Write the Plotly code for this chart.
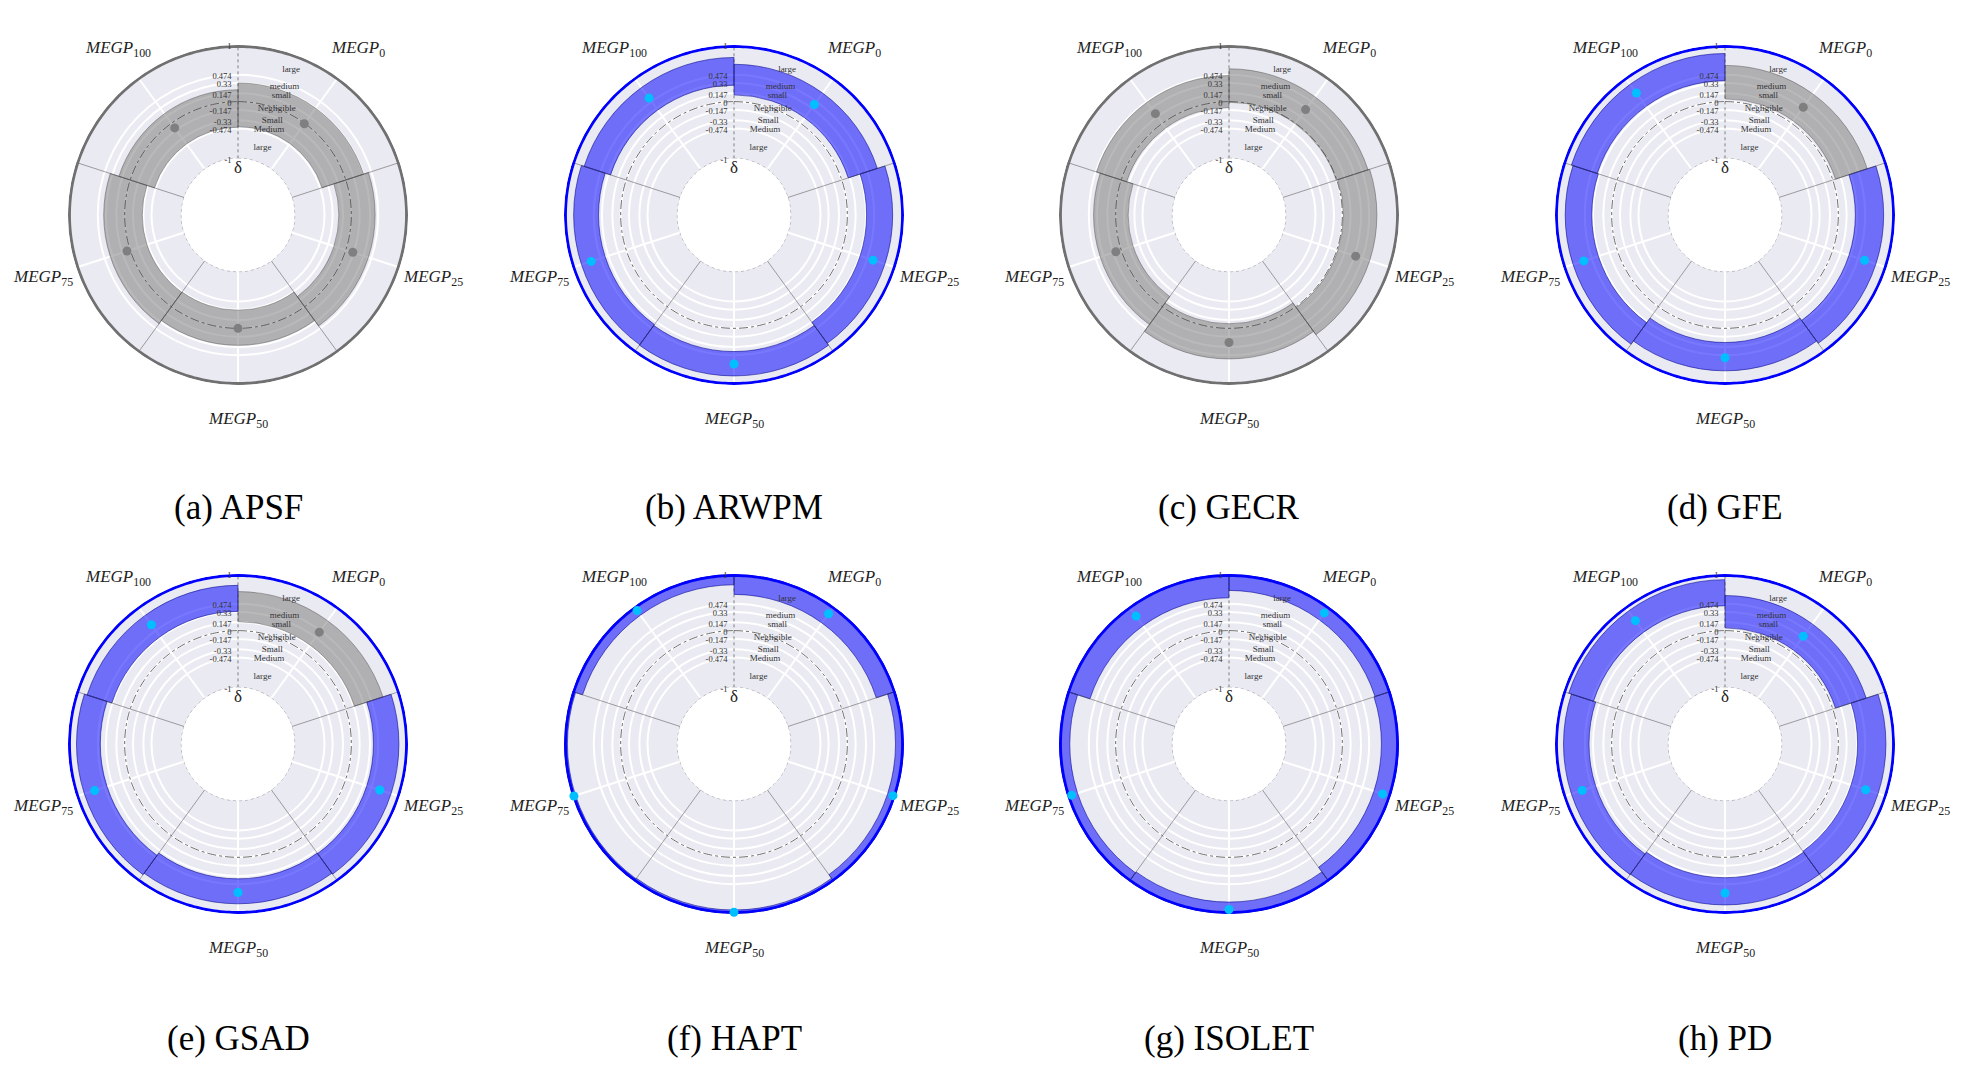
import numpy as np
import plotly.graph_objects as go

# effect size (Cliff's delta) per dataset, one value per MEGP level
datasets = ["APSF", "ARWPM", "GECR", "GFE", "GSAD", "HAPT", "ISOLET", "PD"]
letters = ["a", "b", "c", "d", "e", "f", "g", "h"]
levels = ["0", "25", "50", "75", "100"]

ci_low = {
    "APSF":   [-0.44, -0.22, -0.32, -0.31, -0.45],
    "ARWPM":  [0.12, 0.34, 0.41, 0.39, 0.29],
    "GECR":   [-0.01, 0.02, -0.08, -0.22, -0.10],
    "GFE":    [0.05, 0.30, 0.25, 0.35, 0.37],
    "GSAD":   [0.16, 0.39, 0.38, 0.43, 0.34],
    "HAPT":   [0.64, 0.85, 0.93, 0.94, 0.81],
    "ISOLET": [0.71, 0.69, 0.79, 0.81, 0.58],
    "PD":     [0.05, 0.34, 0.36, 0.40, 0.44],
}
ci_high = {
    "APSF":   [0.33, 0.42, 0.30, 0.37, 0.21],
    "ARWPM":  [0.66, 0.80, 0.84, 0.83, 0.78],
    "GECR":   [0.58, 0.61, 0.54, 0.39, 0.46],
    "GFE":    [0.64, 0.80, 0.75, 0.82, 0.85],
    "GSAD":   [0.69, 0.84, 0.82, 0.85, 0.80],
    "HAPT":   [1.0, 1.0, 1.0, 1.0, 1.0],
    "ISOLET": [1.0, 1.0, 1.0, 1.0, 1.0],
    "PD":     [0.62, 0.84, 0.84, 0.85, 0.90],
}
delta = {
    "APSF":   [-0.01, 0.13, 0.0, 0.06, -0.10],
    "ARWPM":  [0.41, 0.58, 0.63, 0.65, 0.55],
    "GECR":   [0.30, 0.35, 0.25, 0.10, 0.21],
    "GFE":    [0.35, 0.59, 0.52, 0.62, 0.66],
    "GSAD":   [0.44, 0.63, 0.62, 0.66, 0.60],
    "HAPT":   [0.84, 0.95, 0.97, 0.97, 0.91],
    "ISOLET": [0.86, 0.85, 0.92, 0.92, 0.79],
    "PD":     [0.35, 0.61, 0.63, 0.65, 0.69],
}
signif = {
    "APSF":   [0, 0, 0, 0, 0],
    "ARWPM":  [1, 1, 1, 1, 1],
    "GECR":   [0, 0, 0, 0, 0],
    "GFE":    [0, 1, 1, 1, 1],
    "GSAD":   [0, 1, 1, 1, 1],
    "HAPT":   [1, 1, 1, 1, 1],
    "ISOLET": [1, 1, 1, 1, 1],
    "PD":     [1, 1, 1, 1, 1],
}

thresholds = [-1, -0.474, -0.33, -0.147, 0, 0.147, 0.33, 0.474, 1]
threshold_text = ["-1", "-0.474", "-0.33", "-0.147", "0", "0.147", "0.33", "0.474", "1"]
zone_names = ["large", "medium", "small", "Negligible", "Small", "Medium", "large"]
zone_edges = [1, 0.474, 0.33, 0.147, -0.147, -0.33, -0.474, -1]

# page is 1977x1068, browser body keeps an 8px margin
PAD = 8
W, H = 1977 - 2 * PAD, 1068 - 2 * PAD
R = 170
col_cx = [238 - PAD, 734 - PAD, 1229 - PAD, 1725 - PAD]
row_cy = [215 - PAD, 744 - PAD]
caption_y = [507 - PAD, 1038 - PAD]

theta_c = [36, 108, 180, 252, 324]
bounds = [0, 72, 144, 216, 288]
level_text = ["<i>MEGP</i><sub>%s</sub>" % l for l in levels]
LABEL_DIST = 205  # px from centre to the MEGP labels

BG = "#eaeaf2"
serif = "Liberation Serif"

fig = go.Figure()
annotations = []
layout_polars = {}

circle = np.linspace(0, 360, 361)
zone_r = [(zone_edges[i] + zone_edges[i + 1]) / 2 for i in range(len(zone_names))]

for k, ds in enumerate(datasets):
    row, col = k // 4, k % 4
    cx, cy = col_cx[col], row_cy[row]
    pname = "polar" if k == 0 else "polar%d" % (k + 1)
    sub = pname

    sig = signif[ds]
    fills = ["rgba(0,0,255,0.53)" if s else "rgba(128,128,128,0.55)" for s in sig]
    edges = ["rgba(0,0,140,0.7)" if s else "rgba(80,80,80,0.6)" for s in sig]
    dots = ["#00bfff" if s else "#7f7f7f" for s in sig]
    border = "#0000ff" if any(sig) else "#707070"

    lo = np.array(ci_low[ds])
    hi = np.array(ci_high[ds])

    fig.add_trace(go.Barpolar(
        theta=theta_c, r=hi - lo, base=lo, width=[72] * 5,
        marker=dict(color=fills, line=dict(color=edges, width=0.8)),
        subplot=sub, showlegend=False, hoverinfo="skip"))

    # hole edge and zero line
    fig.add_trace(go.Scatterpolar(
        theta=circle, r=[-1] * len(circle), mode="lines",
        line=dict(color="#999", width=0.9, dash="dot"), cliponaxis=False,
        subplot=sub, showlegend=False, hoverinfo="skip"))
    fig.add_trace(go.Scatterpolar(
        theta=circle, r=[0] * len(circle), mode="lines",
        line=dict(color="#444", width=0.8, dash="dashdot"),
        subplot=sub, showlegend=False, hoverinfo="skip"))

    for b in bounds:
        fig.add_trace(go.Scatterpolar(
            theta=[b, b], r=[-1, 1], mode="lines",
            line=dict(color="#444", width=0.8, dash="dot" if b == 0 else "solid"),
            opacity=0.8 if b == 0 else 0.6,
            subplot=sub, showlegend=False, hoverinfo="skip"))

    # outer frame, pulled slightly in so the stroke is not clipped
    fig.add_trace(go.Scatterpolar(
        theta=circle, r=[0.975] * len(circle), mode="lines",
        line=dict(color=border, width=3), cliponaxis=False,
        subplot=sub, showlegend=False, hoverinfo="skip"))

    fig.add_trace(go.Scatterpolar(
        theta=[20] * len(zone_names), r=zone_r, text=zone_names, mode="text",
        textfont=dict(family=serif, size=9, color="#333"),
        subplot=sub, showlegend=False, hoverinfo="skip"))

    fig.add_trace(go.Scatterpolar(
        theta=theta_c, r=delta[ds], mode="markers",
        marker=dict(color=dots, size=9), cliponaxis=False,
        subplot=sub, showlegend=False, hoverinfo="skip"))

    layout_polars[pname] = dict(
        domain=dict(x=[(cx - R) / W, (cx + R) / W],
                    y=[1 - (cy + R) / H, 1 - (cy - R) / H]),
        bgcolor=BG,
        hole=1 / 3,
        radialaxis=dict(range=[-1, 1], tickvals=thresholds, ticktext=threshold_text,
                        showgrid=True, gridcolor="white", gridwidth=1.8,
                        showline=False, ticks="", angle=90, side="counterclockwise",
                        tickfont=dict(family=serif, size=8.5, color="#333")),
        angularaxis=dict(rotation=90, direction="clockwise",
                         tickmode="array", tickvals=theta_c, showticklabels=False,
                         showgrid=True, gridcolor="white", gridwidth=1.8,
                         showline=False, ticks=""),
    )

    # MEGP level labels around the circle
    for t, txt in zip(theta_c, level_text):
        a = np.radians(t)
        lx = cx + LABEL_DIST * np.sin(a)
        ly = cy - LABEL_DIST * np.cos(a)
        annotations.append(dict(
            x=lx / W, y=1 - ly / H, xref="paper", yref="paper",
            xanchor="center", yanchor="middle", text=txt, showarrow=False,
            font=dict(family=serif, size=17, color="#222")))

    annotations.append(dict(
        x=cx / W, y=1 - (cy - 48) / H, xref="paper", yref="paper",
        xanchor="center", yanchor="middle",
        text="δ", showarrow=False, font=dict(family=serif, size=17, color="#222")))
    annotations.append(dict(
        x=cx / W, y=1 - caption_y[row] / H, xref="paper", yref="paper",
        xanchor="center", yanchor="middle",
        text="(%s) %s" % (letters[k], ds), showarrow=False,
        font=dict(family=serif, size=35, color="black")))

fig.update_layout(
    width=W, height=H,
    margin=dict(l=0, r=0, t=0, b=0),
    paper_bgcolor="white",
    annotations=annotations,
    **layout_polars,
)

fig.write_html("out.html")
